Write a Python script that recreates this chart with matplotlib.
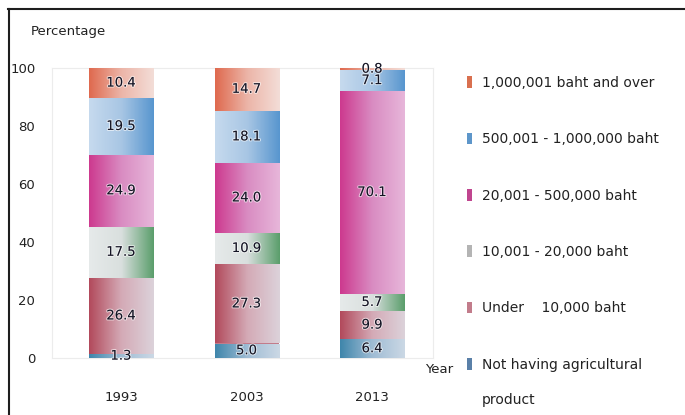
import numpy as np
import matplotlib
matplotlib.use("Agg")
import matplotlib.pyplot as plt
from matplotlib.colors import LinearSegmentedColormap
from matplotlib.lines import Line2D
import matplotlib.patheffects as pe

# data, bottom to top of each stack
years = ["1993", "2003", "2013"]
not_having = [1.3, 5.0, 6.4]
under_10k = [26.4, 27.3, 9.9]
from_10k_20k = [17.5, 10.9, 5.7]
from_20k_500k = [24.9, 24.0, 70.1]
from_500k_1m = [19.5, 18.1, 7.1]
over_1m = [10.4, 14.7, 0.8]

labels = ["Not having agricultural", "Under    10,000 baht",
          "10,001 - 20,000 baht", "20,001 - 500,000 baht",
          "500,001 - 1,000,000 baht", "1,000,001 baht and over"]
series = [not_having, under_10k, from_10k_20k, from_20k_500k, from_500k_1m, over_1m]

# left -> right gradient stops for each segment, and solid legend colour
grads = [["#3f86ab", "#9fbcd4", "#cbd8e5"],
         ["#b24a5c", "#d4aab6", "#dcd2da"],
         ["#e6eaea", "#d9dfde", "#5b9e6c"],
         ["#cd3a8f", "#d98cc2", "#e7b6da"],
         ["#c6daee", "#a8c6e4", "#5896cf"],
         ["#df6a4f", "#ecb5a8", "#f3ddd7"]]
leg_colors = ["#5a80a8", "#c27c8b", "#b4b4b4", "#c0458f", "#5d96ca", "#d9704f"]

fig = plt.figure(figsize=(6.85, 4.15), dpi=100)
ax = fig.add_axes([52 / 685, 1 - 358 / 415, (433 - 52) / 685, (358 - 68) / 415])

x = np.arange(len(years))
width = 0.51
bottom = np.zeros(len(years))
handles = []
for vals, g, lc, lab in zip(series, grads, leg_colors, labels):
    bars = ax.bar(x, vals, width, bottom=bottom, color=lc, linewidth=0, zorder=2)
    cmap = LinearSegmentedColormap.from_list("g", g)
    grad = np.linspace(0, 1, 100).reshape(1, -1)
    for b in bars:
        bx, by = b.get_x(), b.get_y()
        im = ax.imshow(grad, cmap=cmap, aspect="auto", zorder=3,
                       extent=[bx, bx + b.get_width(), by, by + b.get_height()])
        im.set_clip_path(b)
    for xi, v, bt in zip(x, vals, bottom):
        ax.text(xi, bt + v / 2, f"{v:.1f}", ha="center", va="center", fontsize=9.5,
                color="#141424", zorder=5,
                path_effects=[pe.withStroke(linewidth=1.5, foreground=(1, 1, 1, 0.6))])
    handles.append(bars)
    bottom += np.array(vals)

ax.set_xlim(-0.55, 2.486)
ax.set_ylim(0, 100)
ax.set_yticks([0, 20, 40, 60, 80, 100])
ax.set_xticks(x)
ax.set_xticklabels(years)
ax.tick_params(axis="both", length=0, labelsize=9.5, colors="#222222")
ax.tick_params(axis="x", pad=24)
ax.tick_params(axis="y", pad=12)
for s in ax.spines.values():
    s.set_color("#ececec")
    s.set_linewidth(0.8)

fig.text(31 / 685, 1 - 31 / 415, "Percentage", fontsize=9.5, color="#222222", va="center")
fig.text(425 / 685, 1 - 369 / 415, "Year", fontsize=9.5, color="#222222", va="center")

leg = fig.legend(handles[::-1], labels[::-1], loc="upper left",
                 bbox_to_anchor=(460 / 685, 1 - 69 / 415), frameon=False,
                 fontsize=10, handlelength=0.35, handleheight=0.9,
                 handletextpad=0.7, labelspacing=3.05, borderpad=0)
for t in leg.get_texts():
    t.set_color("#222222")
# second line of the last legend entry
fig.text(482 / 685, 1 - 400 / 415, "product", fontsize=10, color="#222222", va="center")

# frame lines at the top and left edges of the picture
fig.add_artist(Line2D([8 / 685, 1], [1 - 9 / 415, 1 - 9 / 415], color="#1e1e1e", lw=1.5))
fig.add_artist(Line2D([9 / 685, 9 / 685], [0, 1 - 9 / 415], color="#1e1e1e", lw=1.5))

fig.savefig("out.png", dpi=100)
